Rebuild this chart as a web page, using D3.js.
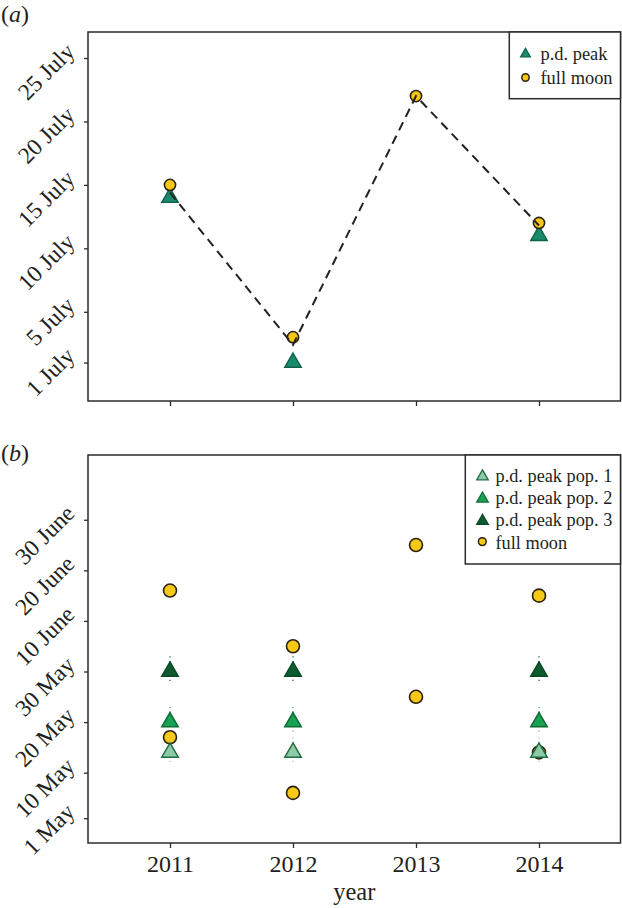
<!DOCTYPE html>
<html>
<head>
<meta charset="utf-8">
<script src="https://cdn.jsdelivr.net/npm/d3@7"></script>
<style>
  html, body { margin: 0; padding: 0; background: #fff; }
  svg { display: block; }
  text { font-family: "Liberation Serif", "Times New Roman", serif; fill: #231f20; }
</style>
</head>
<body>
<script>
// ---------------- DATA ----------------
const years = [2011, 2012, 2013, 2014];

// Panel (a): day of July
const yTicksA = [1, 5, 10, 15, 20, 25];
const yTickLabelsA = ["1 July", "5 July", "10 July", "15 July", "20 July", "25 July"];
const pdPeakA   = [14, 1, null, 11];
const fullMoonA = [15, 3, 22, 12];
const dashedA   = [14.4, 2.4, 22, 11.8];

// Panel (b): days after 1 May
const yTicksB = [0, 9, 19, 29, 39, 49, 59];
const yTickLabelsB = ["1 May", "10 May", "20 May", "30 May", "10 June", "20 June", "30 June"];
const pop1 = [13, 13, null, 13];
const pop2 = [19, 19, null, 19];
const pop3 = [29, 29, null, 29];
const pop1Lo = [11, 11, null, 11], pop1Hi = [16, 16, null, 16];
const pop2Lo = [17, 17, null, 17], pop2Hi = [22, 22, null, 22];
const pop3Lo = [27, 27, null, 27], pop3Hi = [32, 32, null, 32];
const fullMoonBLate  = [45, 34, 54, 44];
const fullMoonBEarly = [16, 5, 24, 13];

// ---------------- STYLE ----------------
const W = 622, H = 908;
const frameColor = "#2b2b2b";
const moonFill = "#f7c815", moonStroke = "#2a2211";
const tealFill = "#1a8a6c", tealStroke = "#0f6148";
const c1Fill = "#8fcaa6", c1Stroke = "#1f6d40";
const c2Fill = "#1aa254", c2Stroke = "#0e6d35";
const c3Fill = "#0e5b2f", c3Stroke = "#0b4a26";
const tickFont = 23.5;

const svg = d3.select("body").append("svg").attr("width", W).attr("height", H);

const left = 88, right = 620.5;
const x = d3.scalePoint().domain(years).range([170, 539]);

const tri = s => d3.symbol().type(d3.symbolTriangle).size(s)();

function frame(g, top, bottom) {
  g.append("rect").attr("x", left).attr("y", top)
    .attr("width", right - left).attr("height", bottom - top)
    .attr("fill", "none").attr("stroke", frameColor).attr("stroke-width", 1.5);
}

function yAxis(g, y, ticks, labels) {
  const ax = g.append("g").attr("transform", `translate(${left},0)`)
    .call(d3.axisLeft(y).tickValues(ticks).tickSize(4).tickFormat(""));
  ax.select(".domain").remove();
  ax.selectAll("line").attr("stroke", frameColor).attr("stroke-width", 1.3);
  g.selectAll(null).data(ticks).enter().append("text")
    .attr("transform", d => `translate(${left - 12},${y(d) - 5}) rotate(-45)`)
    .attr("text-anchor", "end")
    .attr("font-size", tickFont)
    .text((d, i) => labels[i]);
}

function xAxis(g, bottom, withLabels) {
  const ax = g.append("g").attr("transform", `translate(0,${bottom})`)
    .call(d3.axisBottom(x).tickSize(5).tickFormat(withLabels ? d3.format("d") : ""));
  ax.select(".domain").remove();
  ax.selectAll("line").attr("stroke", frameColor).attr("stroke-width", 1.3);
  ax.selectAll("text").attr("font-size", 24).attr("font-family", "Liberation Serif, serif")
    .attr("fill", "#231f20").attr("dy", null).attr("y", 29);
}

function panelLabel(letter, yBase) {
  const t = svg.append("text").attr("x", 1).attr("y", yBase).attr("font-size", 24);
  t.append("tspan").text("(");
  t.append("tspan").attr("font-style", "italic").text(letter);
  t.append("tspan").text(")");
}

// ---------------- PANEL A ----------------
{
  const top = 32, bottom = 401;
  const y = d3.scaleLinear().domain([-2.03, 27.05]).range([bottom, top]);
  const g = svg.append("g");
  panelLabel("a", 22);

  const pts = years.map((yr, i) => ({ yr, p: pdPeakA[i], m: fullMoonA[i], l: dashedA[i] }));

  g.selectAll(".tA").data(pts.filter(d => d.p != null)).enter().append("path")
    .attr("d", tri(118))
    .attr("transform", d => `translate(${x(d.yr)},${y(d.p)})`)
    .attr("fill", tealFill).attr("stroke", tealStroke).attr("stroke-width", 1.4);

  g.selectAll(".mA").data(pts).enter().append("circle")
    .attr("cx", d => x(d.yr)).attr("cy", d => y(d.m)).attr("r", 5.6)
    .attr("fill", moonFill).attr("stroke", moonStroke).attr("stroke-width", 1.6);

  g.append("path").datum(pts)
    .attr("d", d3.line().x(d => x(d.yr)).y(d => y(d.l)))
    .attr("fill", "none").attr("stroke", "#222").attr("stroke-width", 2)
    .attr("stroke-dasharray", "9,6");

  frame(g, top, bottom);
  yAxis(g, y, yTicksA, yTickLabelsA);
  xAxis(g, bottom, false);

  // legend
  const lg = g.append("g");
  lg.append("rect").attr("x", 509.3).attr("y", top).attr("width", right - 509.3).attr("height", 98.7 - top)
    .attr("fill", "#fff").attr("stroke", frameColor).attr("stroke-width", 1.5);
  lg.append("path").attr("d", tri(42)).attr("transform", "translate(525.5,54)")
    .attr("fill", tealFill).attr("stroke", tealStroke).attr("stroke-width", 1.2);
  lg.append("circle").attr("cx", 525.5).attr("cy", 77.5).attr("r", 3.7)
    .attr("fill", moonFill).attr("stroke", moonStroke).attr("stroke-width", 1.5);
  lg.append("text").attr("x", 540.5).attr("y", 59.5).attr("font-size", 18.4).text("p.d. peak");
  lg.append("text").attr("x", 540.5).attr("y", 83.5).attr("font-size", 18.4).text("full moon");
}

// ---------------- PANEL B ----------------
{
  const top = 455, bottom = 843;
  const y = d3.scaleLinear().domain([-4.9, 71.8]).range([bottom, top]);
  const g = svg.append("g");
  panelLabel("b", 461);

  const series = [
    { v: pop3, lo: pop3Lo, hi: pop3Hi, fill: c3Fill, stroke: c3Stroke },
    { v: pop2, lo: pop2Lo, hi: pop2Hi, fill: c2Fill, stroke: c2Stroke },
    { v: pop1, lo: pop1Lo, hi: pop1Hi, fill: c1Fill, stroke: c1Stroke }
  ];

  // dotted ranges
  series.forEach(s => {
    const d = years.map((yr, i) => ({ yr, lo: s.lo[i], hi: s.hi[i] })).filter(d => d.lo != null);
    g.selectAll(null).data(d).enter().append("line")
      .attr("x1", d => x(d.yr)).attr("x2", d => x(d.yr))
      .attr("y1", d => y(d.hi)).attr("y2", d => y(d.lo))
      .attr("stroke", s.fill).attr("stroke-width", 1.2).attr("stroke-dasharray", "1.2,3.5");
  });

  const moons = years.flatMap((yr, i) => [{ yr, v: fullMoonBLate[i] }, { yr, v: fullMoonBEarly[i] }]);
  g.selectAll(".mB").data(moons).enter().append("circle")
    .attr("cx", d => x(d.yr)).attr("cy", d => y(d.v)).attr("r", 6.5)
    .attr("fill", moonFill).attr("stroke", moonStroke).attr("stroke-width", 1.6);

  series.forEach(s => {
    const d = years.map((yr, i) => ({ yr, v: s.v[i] })).filter(d => d.v != null);
    g.selectAll(null).data(d).enter().append("path")
      .attr("d", tri(118))
      .attr("transform", d => `translate(${x(d.yr)},${y(d.v)})`)
      .attr("fill", s.fill).attr("stroke", s.stroke).attr("stroke-width", 1.5);
  });

  frame(g, top, bottom);
  yAxis(g, y, yTicksB, yTickLabelsB);
  xAxis(g, bottom, true);

  // legend
  const lg = g.append("g");
  const lx = 465.3;
  lg.append("rect").attr("x", lx).attr("y", top).attr("width", right - lx).attr("height", 564 - top)
    .attr("fill", "#fff").attr("stroke", frameColor).attr("stroke-width", 1.5);
  const rows = [
    { label: "p.d. peak pop. 1", fill: c1Fill, stroke: c1Stroke, shape: "tri" },
    { label: "p.d. peak pop. 2", fill: c2Fill, stroke: c2Stroke, shape: "tri" },
    { label: "p.d. peak pop. 3", fill: c3Fill, stroke: c3Stroke, shape: "tri" },
    { label: "full moon", fill: moonFill, stroke: moonStroke, shape: "circle" }
  ];
  rows.forEach((r, i) => {
    const cy = 476.5 + i * 22.2;
    if (r.shape === "tri") {
      lg.append("path").attr("d", tri(58)).attr("transform", `translate(482.5,${cy})`)
        .attr("fill", r.fill).attr("stroke", r.stroke).attr("stroke-width", 1.3);
    } else {
      lg.append("circle").attr("cx", 482.3).attr("cy", cy - 1.5).attr("r", 3.9)
        .attr("fill", r.fill).attr("stroke", r.stroke).attr("stroke-width", 1.5);
    }
    lg.append("text").attr("x", 495.5).attr("y", cy + 5.5).attr("font-size", 18.3).text(r.label);
  });

  svg.append("text").attr("x", (left + right) / 2).attr("y", 900)
    .attr("text-anchor", "middle").attr("font-size", 24.5).text("year");
}
</script>
</body>
</html>
